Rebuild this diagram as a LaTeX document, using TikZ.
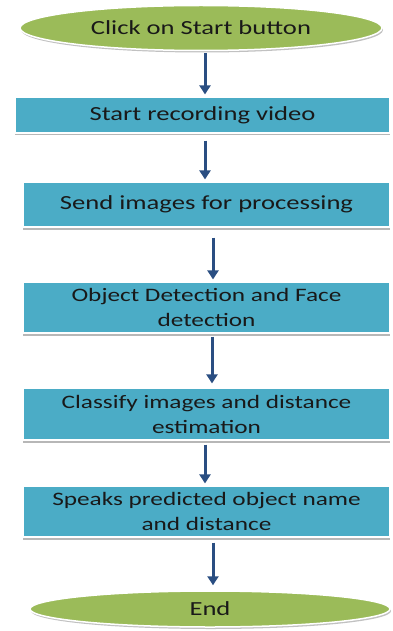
\documentclass[tikz,border=0pt]{standalone}
\usepackage{fontspec}
\setmainfont{Carlito}[FakeStretch=1.33]
\usepackage{xcolor}
\usepackage{tikz}
\usetikzlibrary{arrows.meta,shapes.geometric,shadows}
\definecolor{boxblue}{HTML}{4BACC6}
\definecolor{ovalgreen}{HTML}{9BBB59}
\definecolor{arrowblue}{HTML}{2A4E82}

\begin{document}
\begin{tikzpicture}[x=1pt,y=-1pt,
  stepbox/.style={rectangle,fill=boxblue,draw=white,line width=1.2pt,inner sep=0pt,align=center,
    drop shadow={shadow xshift=0pt,shadow yshift=-2.5pt,fill=black!40,opacity=.7}},
  twoline/.style={stepbox,font=\fontsize{19}{25}\selectfont},
  oval/.style={ellipse,fill=ovalgreen,draw=white,line width=1.5pt,inner sep=0pt,
    drop shadow={shadow xshift=1pt,shadow yshift=-2pt,fill=black!40,opacity=.6}},
  flow/.style={-{Triangle[width=11pt,length=9pt]},line width=3pt,draw=arrowblue},
  every node/.append style={font=\fontsize{20}{25}\selectfont,text=black!90}]
\fill[white](0,0)rectangle(392,631);
\useasboundingbox(0,0)rectangle(392,631);
% terminals
\node[oval,minimum width=362pt,minimum height=45pt](start)at(201,28){Click on Start button};
\node[oval,minimum width=360pt,minimum height=36pt](end)at(210,609){End};
% process steps
\node[stepbox,minimum width=375pt,minimum height=36pt](rec)at(202.5,115){Start recording video};
\node[stepbox,minimum width=367pt,minimum height=45pt](send)at(206.5,204.5){Send images for processing};
\node[twoline,minimum width=367pt,minimum height=51pt](detect)at(206.5,307.5){Object Detection and Face\\detection};
\node[twoline,minimum width=367pt,minimum height=52pt](classify)at(206.5,414){Classify images and distance\\estimation};
\node[twoline,minimum width=367pt,minimum height=51pt](speak)at(206.5,511.5){Speaks predicted object name\\and distance};
% arrows
\foreach \a/\b/\dx/\s/\e in {start/rec/4/2/2,rec/send/2.5/7/2,send/detect/6.5/10/2,
  detect/classify/5.5/3/4,classify/speak/-1.5/4/2,speak/end/6.5/5/5}
  \draw[flow,shorten <=\s pt,shorten >=\e pt]([xshift=\dx pt]\a.south)--([xshift=\dx pt]\a.south|-\b.north);
\end{tikzpicture}
\end{document}
